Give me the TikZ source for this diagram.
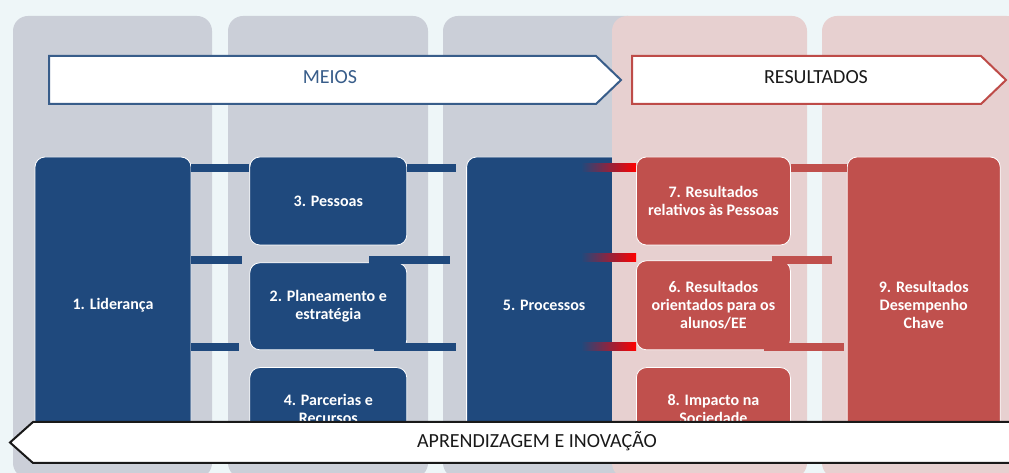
\documentclass[tikz,border=0pt]{standalone}
\usepackage{fontspec}
\setmainfont{Carlito}
\usetikzlibrary{positioning,calc}

\definecolor{bgcol}{HTML}{EEF6F8}
\definecolor{graycol}{HTML}{CBCFD8}
\definecolor{pinkcol}{HTML}{E7D0D0}
\definecolor{boxblue}{HTML}{1F497D}
\definecolor{boxred}{HTML}{C0504D}
\definecolor{meiosblue}{HTML}{385D8A}
\definecolor{resred}{HTML}{BE4B48}
\definecolor{barpurple}{HTML}{7A1FA2}

\begin{document}
\begin{tikzpicture}[x=1pt, y=1pt,
    bluebox/.style={rectangle, rounded corners=10pt, fill=boxblue, draw=white, line width=0.8pt,
        text=white, font=\fontsize{16}{18}\selectfont\bfseries, align=center, minimum width=157pt},
    redbox/.style={bluebox, fill=boxred, minimum width=154pt},
    bar/.style={draw=boxblue, line width=8pt},
    redbar/.style={draw=boxred, line width=8pt},
    fadebar/.style={left color=boxblue, middle color=barpurple, right color=red},
    title/.style={font=\fontsize{20}{24}\selectfont}]
    \useasboundingbox (0,0) rectangle (1009,473);
    \clip (0,0) rectangle (1009,473);
    \fill[bgcol] (0,0) rectangle (1009,473);

    % Columns
    \fill[graycol, rounded corners=15pt] (13,457) rectangle (212,-5);
    \fill[graycol, rounded corners=15pt] (228,457) rectangle (428,-5);
    \fill[graycol, rounded corners=15pt] (443,457) rectangle (643,-5);

    % Nodes
    \node[bluebox, minimum width=156pt, minimum height=296pt] (lid) at (113,168) {1. Liderança};
    \node[bluebox, minimum height=88pt] (pess) [right=58pt of lid.north east, anchor=north west] {3. Pessoas};
    \node[bluebox, minimum height=87pt] (plan) [below=17pt of pess] {2. Planeamento e\\estratégia};
    \node[bluebox, minimum height=82pt] (parc) [below=17pt of plan] {4. Parcerias e\\Recursos};
    \node[bluebox, minimum width=155pt, minimum height=296pt] (proc) [right=59pt of pess.north east, anchor=north west] {5. Processos};

    \fill[pinkcol, rounded corners=15pt] (612,457) rectangle (807,-5);
    \fill[pinkcol, rounded corners=15pt] (822,457) rectangle (1022,-5);

    \node[redbox, minimum height=88pt] (res7) [right=14pt of proc.north east, anchor=north west] {7. Resultados\\relativos às Pessoas};
    \node[redbox, minimum height=89pt] (res6) [below=15pt of res7] {6. Resultados\\orientados para os\\alunos/EE};
    \node[redbox, minimum height=82pt] (res8) [below=17pt of res6] {8. Impacto na\\Sociedade};
    \node[redbox, minimum width=153pt, minimum height=296pt] (res9) [right=56pt of res7.north east, anchor=north west] {9. Resultados\\Desempenho\\Chave};

    % Bars
    \draw[bar] ($(lid.north east)+(0,-11)$) -- ($(lid.north east -| pess.west)+(0,-11)$);
    \draw[bar] ($(lid.north east)+(0,-103)$) -- ($(lid.north east -| plan.west)+(-7,-103)$);
    \draw[bar] ($(lid.north east)+(0,-190)$) -- ($(lid.north east -| plan.west)+(-10,-190)$);
    \draw[bar] ($(pess.north east)+(0,-11)$) -- ($(pess.north east -| proc.west)+(-10,-11)$);
    \draw[bar] ($(pess.north east)+(-38,-103)$) -- ($(pess.north east -| proc.west)+(-16,-103)$);
    \draw[bar] ($(pess.north east)+(-33,-190)$) -- ($(pess.north east -| proc.west)+(-10,-190)$);

    \shade[fadebar] ($(proc.north east)+(-41,-7)$) rectangle ($(proc.north east -| res7.west)+(0,-15)$);
    \shade[fadebar] ($(proc.north east)+(-41,-97)$) rectangle ($(proc.north east -| res6.west)+(0,-105)$);
    \shade[fadebar] ($(proc.north east)+(-41,-186)$) rectangle ($(proc.north east -| res6.west)+(0,-194)$);

    \draw[redbar] ($(res7.north east)+(0,-11)$) -- ($(res7.north east -| res9.west)+(0,-11)$);
    \draw[redbar] ($(res7.north east)+(-19,-103)$) -- ($(res7.north east -| res9.west)+(-15,-103)$);
    \draw[redbar] ($(res7.north east)+(-27,-190)$) -- ($(res7.north east -| res9.west)+(-3,-190)$);

    % Arrows
    \draw[draw=meiosblue, fill=white, line width=2pt] (49,417) -- (596,417) -- (621,393) -- (596,369) -- (49,369) -- cycle;
    \node[title, text=meiosblue] (meios) at (330,396) {MEIOS};
    \draw[draw=resred, fill=white, line width=2pt] (632,417) -- (981,417) -- (1006,393) -- (981,369) -- (632,369) -- cycle;
    \node[title, text=black!90] (resultados) at (816,396) {RESULTADOS};
    \draw[draw=black!90, fill=white, line width=2pt] (1015,51) -- (33,51) -- (10,30.5) -- (33,10) -- (1015,10);
    \node[title, text=black!90] (aprend) at (537,32) {APRENDIZAGEM E INOVAÇÃO};
\end{tikzpicture}
\end{document}
